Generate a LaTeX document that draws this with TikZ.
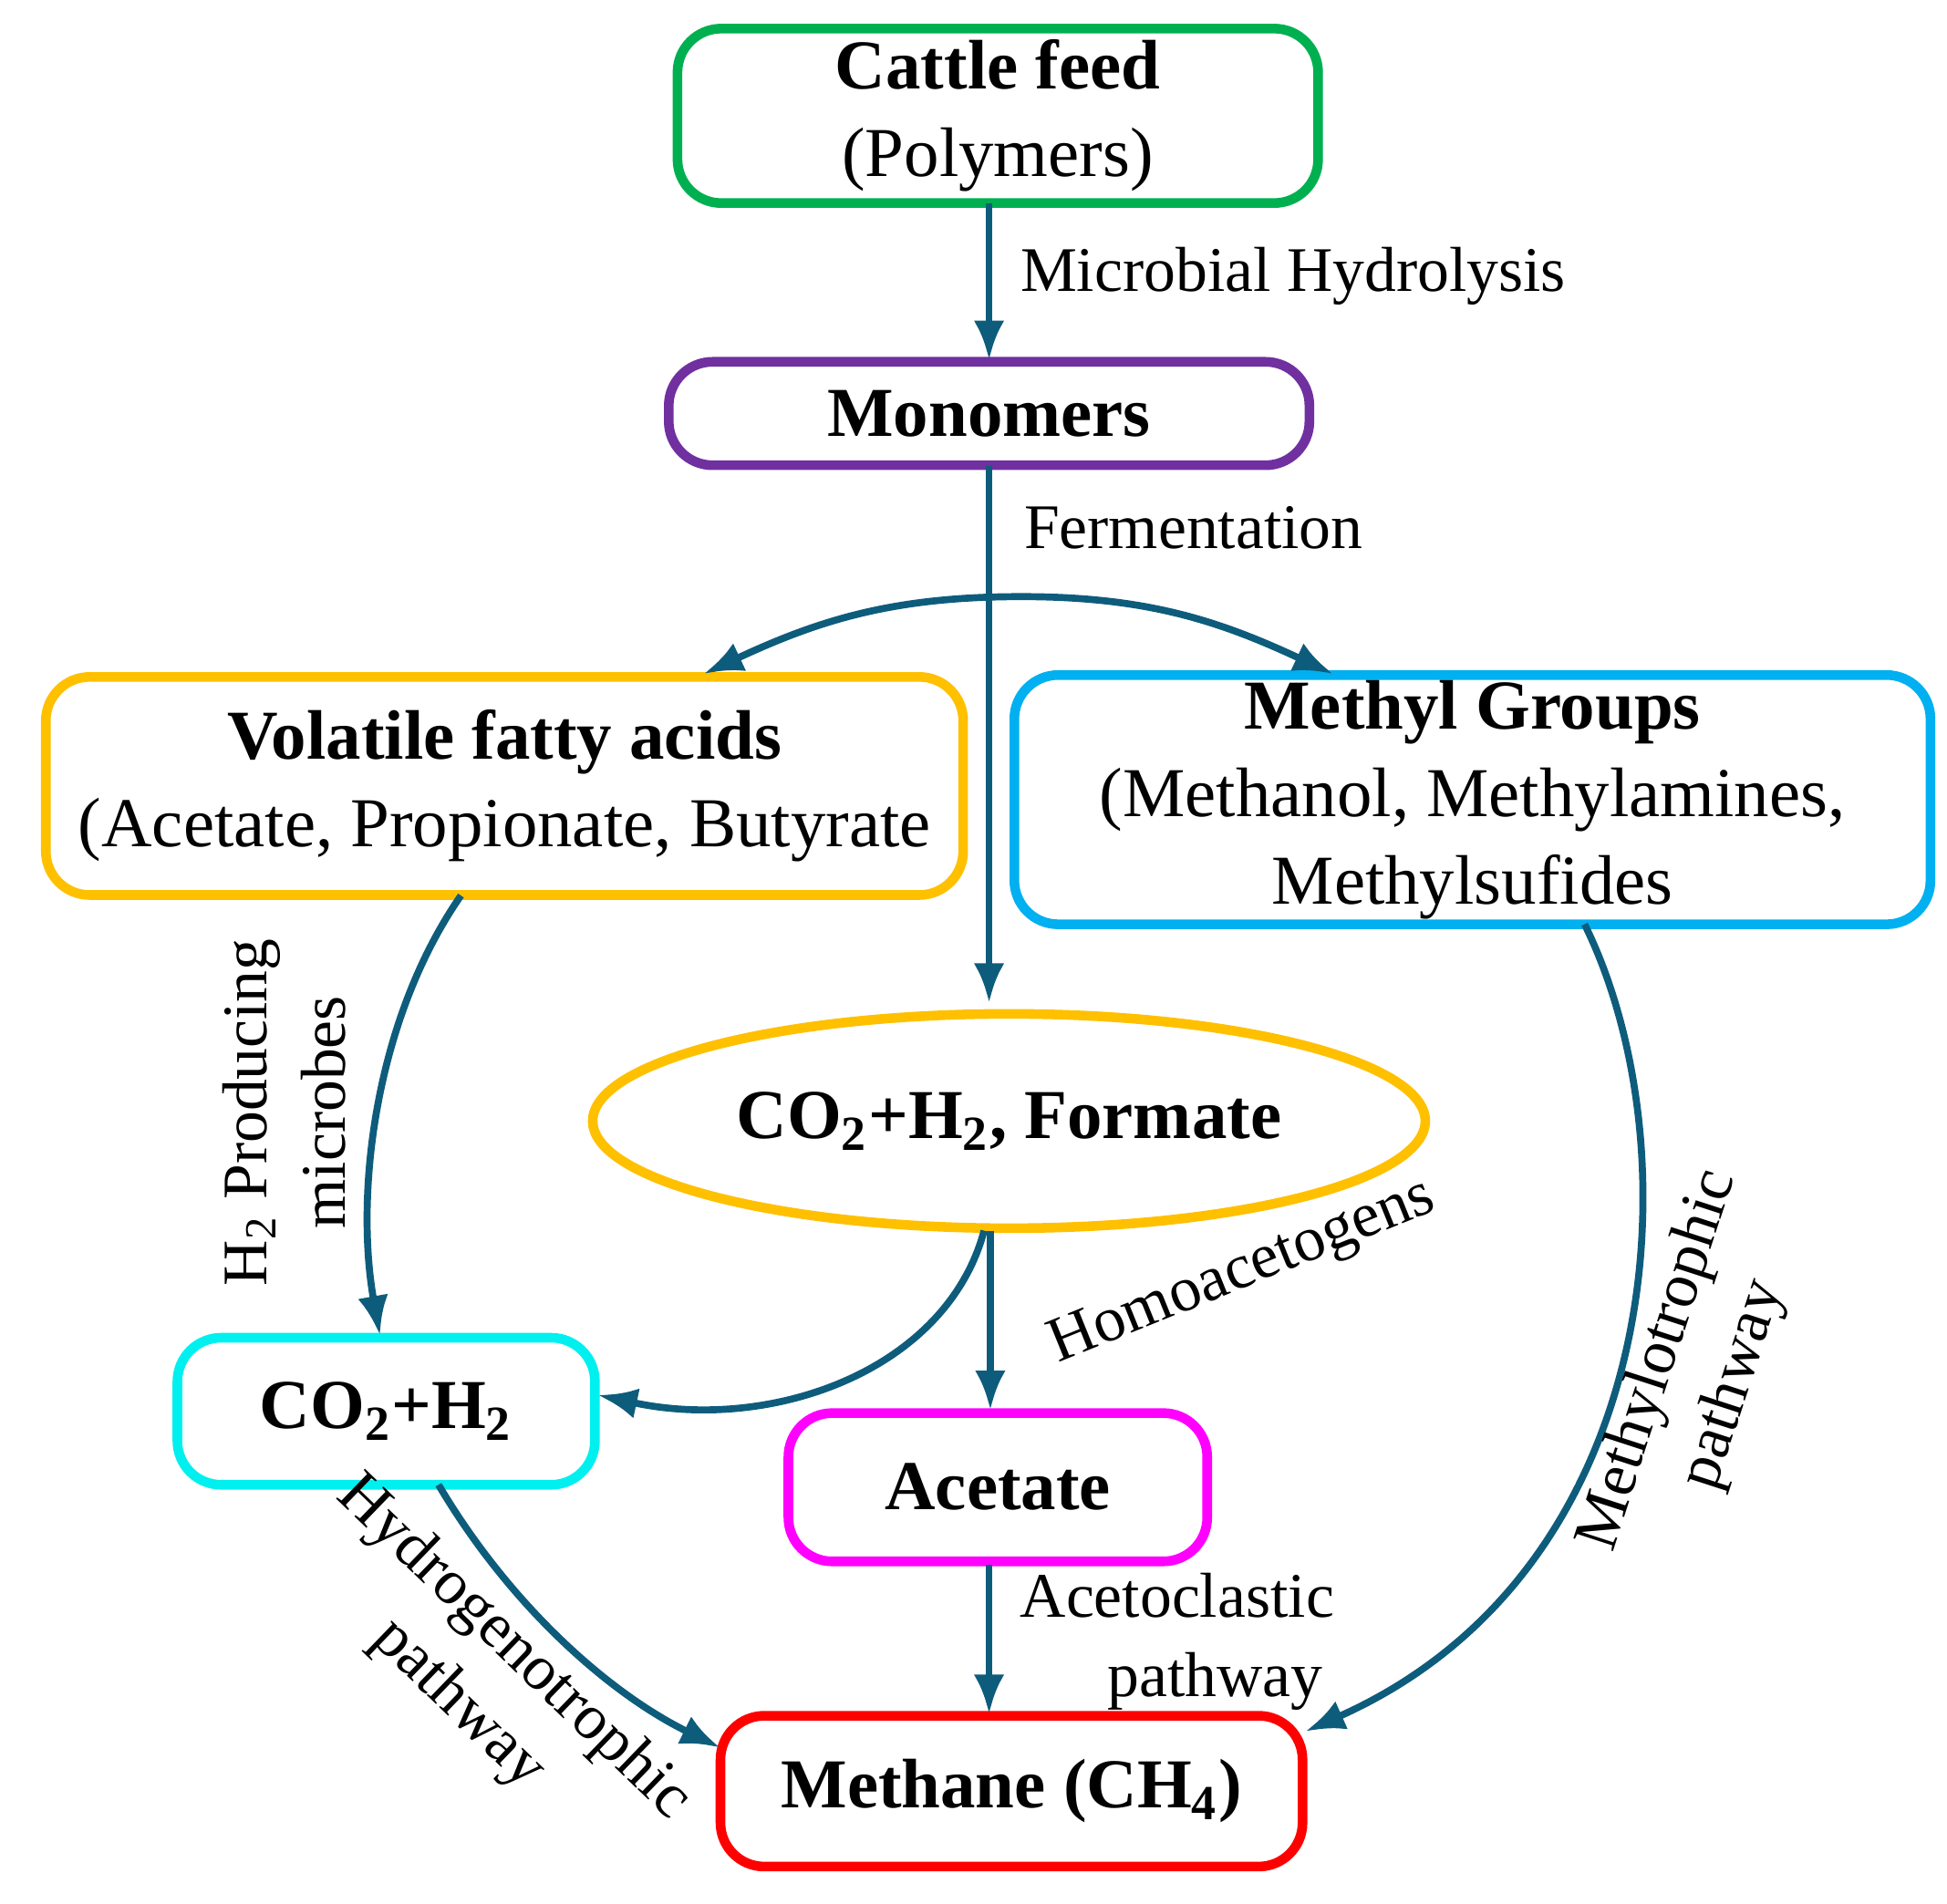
\documentclass[tikz,border=0pt]{standalone}
\usepackage{fontspec}
\setmainfont{Liberation Serif}
\usetikzlibrary{shapes.geometric,arrows.meta}
\definecolor{arr}{HTML}{0E5C7C}
\definecolor{cy}{HTML}{00F0F0}
\definecolor{mg}{HTML}{FF00FF}
\begin{document}
\begin{tikzpicture}[x=0.01cm,y=-0.01cm,
  box/.style={draw,line width=2.2pt,rounded corners=10pt,inner sep=0pt,align=center,font=\fontsize{16}{20}\selectfont},
  lab/.style={font=\fontsize{14.5}{18}\selectfont,align=center,inner sep=1pt},
  ar/.style={draw=arr,line width=1.6pt,-{Latex[length=9pt,width=7pt]}}]
\useasboundingbox (0,0) rectangle (1563,1528);
\node[box,draw={rgb,255:red,0;green,176;blue,80},minimum width=5.14cm,minimum height=1.4cm] (cf) at (801,93) {\textbf{Cattle feed}\\(Polymers)};
\node[box,draw={rgb,255:red,112;green,48;blue,160},minimum width=5.14cm,minimum height=0.83cm] (mo) at (794,332) {\textbf{Monomers}};
\node[box,draw={rgb,255:red,255;green,192;blue,0},minimum width=7.36cm,minimum height=1.75cm] (vfa) at (405,631) {\textbf{Volatile fatty acids}\\(Acetate, Propionate, Butyrate};
\node[box,draw={rgb,255:red,0;green,176;blue,240},minimum width=7.35cm,minimum height=2.0cm] (me) at (1182,642) {\textbf{Methyl Groups}\\(Methanol, Methylamines,\\Methylsufides};
\node[ellipse,draw={rgb,255:red,255;green,192;blue,0},line width=2.2pt,minimum width=6.68cm,minimum height=1.72cm,font=\fontsize{16}{20}\selectfont] (el) at (810,900) {\textbf{CO\textsubscript{2}+H\textsubscript{2}, Formate}};
\node[box,draw=cy,minimum width=3.35cm,minimum height=1.18cm] (ch) at (310,1133) {\textbf{CO\textsubscript{2}+H\textsubscript{2}}};
\node[box,draw=mg,minimum width=3.36cm,minimum height=1.19cm] (ac) at (801,1194) {\textbf{Acetate}};
\node[box,draw=red,minimum width=4.67cm,minimum height=1.21cm] (mt) at (812,1438) {\textbf{Methane (CH\textsubscript{4})}};
\coordinate (f) at (820,479);
\draw[ar] (794,163) -- (794,289);
\draw[ar] (794,374) -- (794,805);
\draw[ar] (f) to[out=180,in=25] (565,541);
\draw[ar] (f) to[out=0,in=155] (1070,541);
\draw[ar] (370,719) .. controls (300,820) and (285,960) .. (305,1072);
\draw[ar] (790,988) .. controls (760,1100) and (620,1150) .. (480,1120);
\draw[ar] (795,988) -- (795,1132);
\draw[ar] (352,1192) .. controls (410,1290) and (490,1360) .. (578,1403);
\draw[ar] (794,1256) -- (794,1376);
\draw[ar] (1272,742) .. controls (1360,920) and (1340,1260) .. (1048,1390);
\node[lab,anchor=west] (l1) at (815,222) {Microbial Hydrolysis};
\node[lab,anchor=west] (l2) at (818,424) {Fermentation};
\node[lab,rotate=90] (l3) at (228,893) {H\textsubscript{2} Producing\\microbes};
\node[lab,rotate=22] (l4) at (998,1022) {Homoacetogens};
\node[lab,rotate=-44] (l5) at (390,1346) {Hydrogenotrophic\\pathway};
\node[lab] (l6) at (945,1318) {Acetoclastic\\\hspace*{1.2em}pathway};
\node[lab,rotate=72] (l7) at (1362,1102) {Methylotrophic\\pathway};
\end{tikzpicture}
\end{document}
